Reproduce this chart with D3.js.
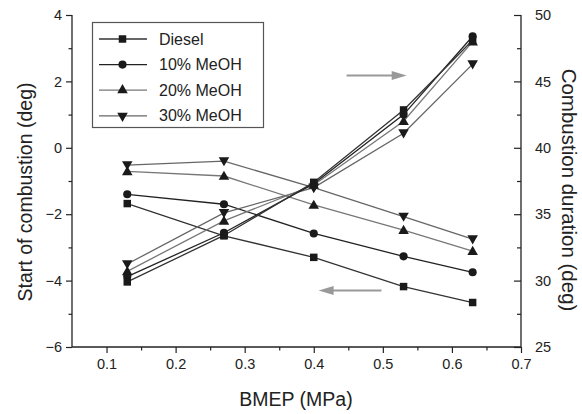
<!DOCTYPE html>
<html><head><meta charset="utf-8">
<script src="https://cdn.jsdelivr.net/npm/d3@7"></script>
<style>
body{margin:0;background:#fff;}
svg{display:block;font-family:"Liberation Sans",Arial,Helvetica,sans-serif;}
</style></head>
<body><svg id="c" width="582" height="414"></svg>
<script>
const bmep = [0.13, 0.27, 0.40, 0.53, 0.63];
const seriesNames = ["Diesel", "10% MeOH", "20% MeOH", "30% MeOH"];
const socDiesel = [-1.68, -2.65, -3.30, -4.18, -4.66];
const soc10 = [-1.40, -1.70, -2.58, -3.27, -3.75];
const soc20 = [-0.71, -0.85, -1.72, -2.48, -3.11];
const soc30 = [-0.52, -0.40, -1.20, -2.07, -2.75];
const durDiesel = [29.9, 33.4, 37.4, 42.85, 48.1];
const dur10 = [30.3, 33.6, 37.3, 42.5, 48.4];
const dur20 = [30.7, 34.5, 37.2, 42.0, 48.0];
const dur30 = [31.25, 35.1, 37.0, 41.1, 46.3];
const xTicks = [0.1, 0.2, 0.3, 0.4, 0.5, 0.6, 0.7];
const leftTicks = [-6, -4, -2, 0, 2, 4];
const rightTicks = [25, 30, 35, 40, 45, 50];

const symbols = [d3.symbolSquare, d3.symbolCircle, d3.symbolTriangle, d3.symbolTriangle];
const symSizes = [56, 52, 48, 48];
const rot = [0, 0, 0, 180];
const lineColors = ["#333", "#222", "#777", "#666"];
const socData = [socDiesel, soc10, soc20, soc30];
const durData = [durDiesel, dur10, dur20, dur30];

const svg = d3.select("#c");
const L = 72, R = 521, T = 15, B = 347;
const x = d3.scaleLinear().domain([0.05, 0.7]).range([L, R]);
const yL = d3.scaleLinear().domain([-6, 4]).range([B, T]);
const yR = d3.scaleLinear().domain([25, 50]).range([B, T]);
const axColor = "#222";

// axes
const xAxis = d3.axisBottom(x).tickValues(xTicks).tickSize(6).tickPadding(6).tickFormat(d3.format(".1f"));
const gx = svg.append("g").attr("transform", `translate(0,${B})`).call(xAxis);
svg.append("g").attr("transform", `translate(0,${B})`)
  .call(d3.axisBottom(x).tickValues([0.15,0.25,0.35,0.45,0.55,0.65]).tickSize(3.5).tickFormat(""))
  .call(g => g.select(".domain").remove());
const gl = svg.append("g").attr("transform", `translate(${L},0)`)
  .call(d3.axisLeft(yL).tickValues(leftTicks).tickSize(6).tickPadding(4).tickFormat(d3.format("d")));
svg.append("g").attr("transform", `translate(${L},0)`)
  .call(d3.axisLeft(yL).tickValues([-5,-3,-1,1,3]).tickSize(3.5).tickFormat(""))
  .call(g => g.select(".domain").remove());
const gr = svg.append("g").attr("transform", `translate(${R},0)`)
  .call(d3.axisRight(yR).tickValues(rightTicks).tickSize(-7).tickPadding(14).tickFormat(d3.format("d")));
svg.append("g").attr("transform", `translate(${R},0)`)
  .call(d3.axisRight(yR).tickValues([27.5,32.5,37.5,42.5,47.5]).tickSize(-4).tickFormat(""))
  .call(g => g.select(".domain").remove());
svg.selectAll(".domain").attr("stroke", axColor).attr("stroke-width", 1.3);
svg.selectAll(".tick line").attr("stroke", axColor).attr("stroke-width", 1.2);
svg.selectAll(".tick text").attr("fill", "#222").style("font-size", "14.5px")
  .style("font-family", '"Liberation Sans",Arial,sans-serif');
gx.selectAll(".domain").attr("d", `M${L},0H${R}`);
gl.selectAll(".domain").attr("d", `M0,${T}V${B}`);
gr.selectAll(".domain").attr("d", `M0,${T}V${B}`);

// axis titles
svg.append("text").attr("x", 296).attr("y", 406).attr("text-anchor", "middle")
  .style("font-size", "19.5px").attr("fill", "#222").text("BMEP (MPa)");
svg.append("text").attr("transform", "translate(32,192) rotate(-90)").attr("text-anchor", "middle")
  .style("font-size", "19.5px").attr("fill", "#222").text("Start of combustion (deg)");
svg.append("text").attr("transform", "translate(562,190) rotate(90)").attr("text-anchor", "middle")
  .style("font-size", "20.5px").attr("fill", "#222").text("Combustion duration (deg)");

// series
function drawSeries(vals, yS, i) {
  const pts = bmep.map((b, k) => [x(b), yS(vals[k])]);
  svg.append("path").attr("d", d3.line()(pts)).attr("fill", "none")
    .attr("stroke", lineColors[i]).attr("stroke-width", 1.3);
  svg.append("g").selectAll("path").data(pts).join("path")
    .attr("d", d3.symbol().type(symbols[i]).size(symSizes[i]))
    .attr("transform", d => `translate(${d[0]},${d[1] + (i===3 ? -0.8 : i===2 ? 0.8 : 0)}) rotate(${rot[i]})`)
    .attr("fill", "#1a1a1a");
}
[3,2,1,0].forEach(i => drawSeries(socData[i], yL, i));
[3,2,1,0].forEach(i => drawSeries(durData[i], yR, i));

// arrows
function arrow(x1, x2, y) {
  const dir = Math.sign(x2 - x1);
  svg.append("line").attr("x1", x1).attr("x2", x2 - dir * 12).attr("y1", y).attr("y2", y)
    .attr("stroke", "#999").attr("stroke-width", 2);
  svg.append("path").attr("d", `M${x2},${y}L${x2 - dir * 15},${y - 4.5}L${x2 - dir * 15},${y + 4.5}Z`)
    .attr("fill", "#999");
}
arrow(x(0.4475), x(0.5345), yR(45.45));
arrow(x(0.498), x(0.407), yL(-4.3));

// legend
const lg = svg.append("g");
lg.append("rect").attr("x", 92.5).attr("y", 22.5).attr("width", 171).attr("height", 105)
  .attr("fill", "#fff").attr("stroke", "#555").attr("stroke-width", 1.2);
seriesNames.forEach((n, i) => {
  const yy = 39 + i * 25.6;
  lg.append("line").attr("x1", 99).attr("x2", 147).attr("y1", yy).attr("y2", yy)
    .attr("stroke", lineColors[i]).attr("stroke-width", 1.3);
  lg.append("path").attr("d", d3.symbol().type(symbols[i]).size(symSizes[i]))
    .attr("transform", `translate(122.5,${yy}) rotate(${rot[i]})`).attr("fill", "#1a1a1a");
  lg.append("text").attr("x", 159).attr("y", yy + 5.5).style("font-size", "16px")
    .attr("fill", "#222").text(n);
});
</script></body></html>
